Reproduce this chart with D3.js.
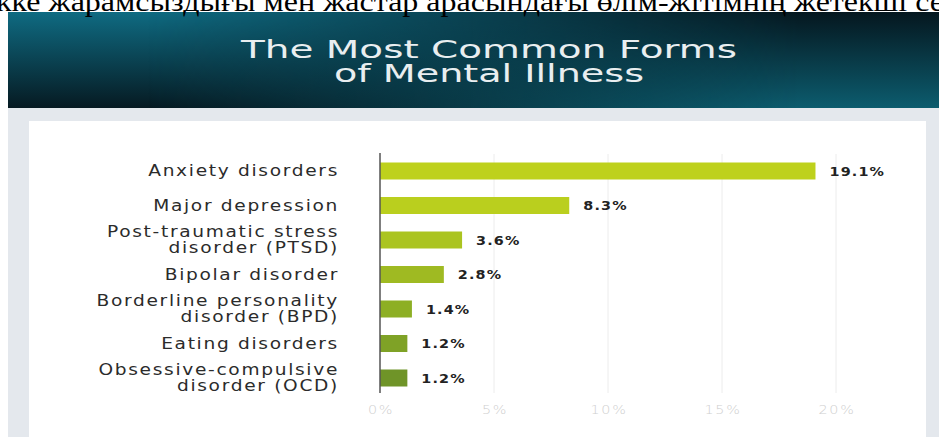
<!DOCTYPE html>
<html lang="en">
<head>
<meta charset="UTF-8">
<title>The Most Common Forms of Mental Illness</title>
<script src="https://d3js.org/d3.v7.min.js"></script>
<style>
    body { margin: 0; background: #fff; overflow: hidden; }
    svg { display: block; }
    .cat { font-family: "DejaVu Sans", sans-serif; font-size: 15.5px; fill: #2b2b2b; letter-spacing: 1.4px; }
    .val { font-family: "DejaVu Sans", sans-serif; font-size: 12.5px; font-weight: 700; fill: #222; letter-spacing: 1px; }
    .tick-lbl { font-family: "DejaVu Sans", sans-serif; font-size: 12.5px; font-weight: 300; fill: #cfcfcf; letter-spacing: 1.5px; }
</style>
</head>
<body>
<svg width="939" height="437"></svg>
<script>
    // data
    var categories = [
        ["Anxiety disorders"],
        ["Major depression"],
        ["Post-traumatic stress", "disorder (PTSD)"],
        ["Bipolar disorder"],
        ["Borderline personality", "disorder (BPD)"],
        ["Eating disorders"],
        ["Obsessive-compulsive", "disorder (OCD)"]
    ];
    var values = [19.1, 8.3, 3.6, 2.8, 1.4, 1.2, 1.2];
    var tickValues = [0, 5, 10, 15, 20];
    var titleLines = ["The Most Common Forms", "of Mental Illness"];
    var barColors = ["#bed11c", "#bacf1e", "#abc420", "#9fba22", "#8daf24", "#7fa226", "#6f9428"];

    var svg = d3.select("svg");
    var defs = svg.append("defs");

    // header gradients: teal top-left, teal bottom-right, dark in between
    var g1 = defs.append("linearGradient").attr("id", "hdrA")
        .attr("x1", 0).attr("y1", 0).attr("x2", 0).attr("y2", 1);
    g1.append("stop").attr("offset", "0%").attr("stop-color", "#0f6b82");
    g1.append("stop").attr("offset", "100%").attr("stop-color", "#061a22");
    var g2 = defs.append("linearGradient").attr("id", "hdrB")
        .attr("x1", 0).attr("y1", 0).attr("x2", 0).attr("y2", 1);
    g2.append("stop").attr("offset", "0%").attr("stop-color", "#05171f");
    g2.append("stop").attr("offset", "100%").attr("stop-color", "#0c5c6e");
    var mg = defs.append("linearGradient").attr("id", "hdrMaskG")
        .attr("x1", 0).attr("y1", 0).attr("x2", 1).attr("y2", 0);
    mg.append("stop").attr("offset", "15%").attr("stop-color", "#000");
    mg.append("stop").attr("offset", "85%").attr("stop-color", "#fff");
    defs.append("mask").attr("id", "hdrMask")
        .append("rect").attr("x", 8).attr("y", 12).attr("width", 931).attr("height", 96)
        .attr("fill", "url(#hdrMaskG)");

    svg.append("rect").attr("x", 0).attr("y", 0).attr("width", 939).attr("height", 12).attr("fill", "#fff");
    svg.append("rect").attr("x", 8).attr("y", 12).attr("width", 931).attr("height", 425).attr("fill", "#e4e8ed");
    svg.append("rect").attr("x", 8).attr("y", 12).attr("width", 931).attr("height", 96).attr("fill", "url(#hdrA)");
    svg.append("rect").attr("x", 8).attr("y", 12).attr("width", 931).attr("height", 96)
        .attr("fill", "url(#hdrB)").attr("mask", "url(#hdrMask)");

    // caption line cut off at top of the picture
    svg.append("text")
        .attr("x", -4)
        .attr("y", 11)
        .attr("textLength", 948)
        .attr("lengthAdjust", "spacingAndGlyphs")
        .attr("font-family", "Liberation Serif, serif")
        .attr("font-size", "27px")
        .attr("fill", "#000")
        .text("кке жарамсыздығы мен жастар арасындағы өлім-жітімнің жетекші се");

    var titleW = [496, 310];
    svg.selectAll(".title")
        .data(titleLines)
        .enter().append("text")
        .attr("class", "title")
        .attr("x", 489)
        .attr("y", function(d, i) { return 58 + i * 24; })
        .attr("text-anchor", "middle")
        .attr("textLength", function(d, i) { return titleW[i]; })
        .attr("lengthAdjust", "spacingAndGlyphs")
        .attr("font-family", "DejaVu Sans, sans-serif")
        .attr("font-size", "25px")
        .attr("fill", "#e9eef0")
        .text(function(d) { return d; });

    // white card
    svg.append("rect").attr("x", 29).attr("y", 121).attr("width", 897).attr("height", 320).attr("fill", "#fff");

    var x = d3.scaleLinear().domain([0, 20]).range([380, 836]);
    var y = d3.scalePoint().domain(d3.range(categories.length)).range([171, 378]);
    var barH = 17;

    var g = svg.append("g");

    g.selectAll(".grid")
        .data(tickValues.slice(1))
        .enter().append("line")
        .attr("x1", function(d) { return x(d); })
        .attr("x2", function(d) { return x(d); })
        .attr("y1", 154).attr("y2", 393)
        .attr("stroke", "#ececec")
        .attr("stroke-width", 1);

    g.selectAll(".tick-lbl")
        .data(tickValues)
        .enter().append("text")
        .attr("class", "tick-lbl")
        .attr("transform", function(d) { return "translate(" + (x(d) + 1) + ",414) scale(1.15,1)"; })
        .attr("text-anchor", "middle")
        .text(function(d) { return d + "%"; });

    g.selectAll(".bar")
        .data(values)
        .enter().append("rect")
        .attr("class", "bar")
        .attr("x", x(0))
        .attr("y", function(d, i) { return y(i) - barH / 2; })
        .attr("width", function(d) { return x(d) - x(0); })
        .attr("height", barH)
        .attr("fill", function(d, i) { return barColors[i]; });

    g.selectAll(".val")
        .data(values)
        .enter().append("text")
        .attr("class", "val")
        .attr("transform", function(d, i) { return "translate(" + (x(d) + 14) + "," + (y(i) + 4.5) + ") scale(1.15,1)"; })
        .text(function(d) { return d.toFixed(1) + "%"; });

    var cats = g.selectAll(".cat")
        .data(categories)
        .enter().append("text")
        .attr("class", "cat")
        .attr("text-anchor", "end")
        .attr("transform", "translate(339,0) scale(1.2,1)");
    cats.each(function(d, i) {
        var t = d3.select(this);
        var first = d.length > 1 ? y(i) - 3 : y(i) + 5.5;
        d.forEach(function(line, k) {
            t.append("tspan").attr("x", 0).attr("y", first + k * 16).text(line);
        });
    });

    // axis line
    g.append("line")
        .attr("x1", x(0)).attr("x2", x(0))
        .attr("y1", 153).attr("y2", 393)
        .attr("stroke", "#555").attr("stroke-width", 1.5);
</script>
</body>
</html>
